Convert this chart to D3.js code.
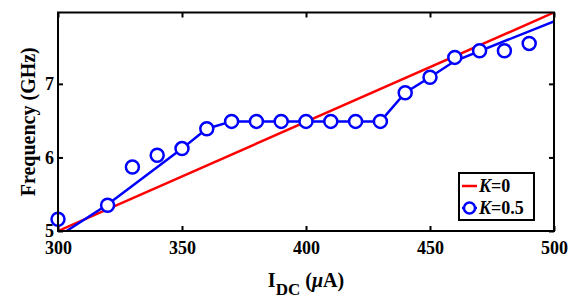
<!DOCTYPE html>
<html>
<head>
<meta charset="utf-8">
<script src="https://cdn.jsdelivr.net/npm/d3@7"></script>
<style>
  body { margin: 0; background: #fff; }
  text { font-family: "Liberation Serif", "Times New Roman", serif; font-weight: bold; }
</style>
</head>
<body>
<div id="chart"></div>
<script>
"use strict"

// data
const markerX = [300, 320, 330, 340, 350, 360, 370, 380, 390, 400, 410, 420, 430, 440, 450, 460, 470, 480, 490]
const markerY = [5.16, 5.35, 5.87, 6.03, 6.12, 6.39, 6.49, 6.49, 6.49, 6.49, 6.49, 6.49, 6.49, 6.88, 7.09, 7.36, 7.45, 7.45, 7.55]
const fitX = [303, 320, 350, 360, 370, 430, 440, 450, 460, 500]
const fitY = [4.99, 5.36, 6.12, 6.39, 6.49, 6.49, 6.88, 7.09, 7.31, 7.85]
const k0X = [300, 500]
const k0Y = [5.0, 7.97]
const xTicks = [300, 350, 400, 450, 500]
const yTicks = [5, 6, 7]

const width = 581, height = 304
const margin = { top: 12.5, right: 27, bottom: 73, left: 58 }

const svg = d3.select("#chart").append("svg")
  .attr("width", width)
  .attr("height", height)

const x = d3.scaleLinear().domain([300, 500]).range([margin.left, width - margin.right])
const y = d3.scaleLinear().domain([5, 7.97]).range([height - margin.bottom, margin.top])

svg.append("clipPath").attr("id", "clip")
  .append("rect")
  .attr("x", margin.left).attr("y", margin.top)
  .attr("width", x.range()[1] - margin.left)
  .attr("height", y.range()[0] - margin.top)

const line = d3.line().x((d) => x(d[0])).y((d) => y(d[1]))

const plot = svg.append("g").attr("clip-path", "url(#clip)")

plot.append("path")
  .datum(d3.zip(k0X, k0Y))
  .attr("d", line)
  .attr("fill", "none")
  .attr("stroke", "#ff0000")
  .attr("stroke-width", 2.5)

plot.append("path")
  .datum(d3.zip(fitX, fitY))
  .attr("d", line)
  .attr("fill", "none")
  .attr("stroke", "#0000ff")
  .attr("stroke-width", 2.5)

svg.append("g")
  .selectAll("circle")
  .data(d3.zip(markerX, markerY))
  .enter()
    .append("circle")
    .attr("cx", (d) => x(d[0]))
    .attr("cy", (d) => y(d[1]))
    .attr("r", 6.5)
    .attr("fill", "#fff")
    .attr("stroke", "#0000ff")
    .attr("stroke-width", 2.5)

// axes, ticks inside, on all four sides
const tickLen = 5
const bottomY = y.range()[0], topY = y.range()[1]
const leftX = x.range()[0], rightX = x.range()[1]

svg.append("g")
  .attr("transform", `translate(0,${bottomY})`)
  .call(d3.axisBottom(x).tickValues(xTicks).tickSizeInner(-tickLen).tickSizeOuter(0).tickPadding(10))
svg.append("g")
  .attr("transform", `translate(0,${topY})`)
  .call(d3.axisTop(x).tickValues(xTicks).tickSizeInner(-tickLen).tickSizeOuter(0).tickFormat(""))
svg.append("g")
  .attr("transform", `translate(${leftX},0)`)
  .call(d3.axisLeft(y).tickValues(yTicks).tickFormat(d3.format("d")).tickSizeInner(-tickLen).tickSizeOuter(0).tickPadding(4))
svg.append("g")
  .attr("transform", `translate(${rightX},0)`)
  .call(d3.axisRight(y).tickValues(yTicks).tickSizeInner(-tickLen).tickSizeOuter(0).tickFormat(""))

svg.selectAll(".domain").remove()
svg.selectAll(".tick line").attr("stroke", "#000").attr("stroke-width", 2)
svg.selectAll(".tick text")
  .attr("fill", "#000")
  .style("font-size", "18px")

svg.append("rect")
  .attr("x", leftX).attr("y", topY)
  .attr("width", rightX - leftX).attr("height", bottomY - topY)
  .attr("fill", "none")
  .attr("stroke", "#000")
  .attr("stroke-width", 2)

// axis titles
svg.append("text")
  .attr("transform", `translate(35,${(topY + bottomY) / 2}) rotate(-90)`)
  .attr("text-anchor", "middle")
  .style("font-size", "20px")
  .text("Frequency (GHz)")

const xt = svg.append("text")
  .attr("x", (leftX + rightX) / 2)
  .attr("y", 287)
  .attr("text-anchor", "middle")
  .style("font-size", "20px")
xt.append("tspan").text("I")
xt.append("tspan").attr("dy", 8).style("font-size", "17px").text("DC")
xt.append("tspan").attr("dy", -8).text(" (")
xt.append("tspan").style("font-style", "italic").text("\u03bc")
xt.append("tspan").text("A)")

// legend
const legend = svg.append("g").attr("transform", "translate(459,173)")
legend.append("rect")
  .attr("width", 75).attr("height", 47)
  .attr("fill", "#fff")
  .attr("stroke", "#000")
  .attr("stroke-width", 2)

const entries = [
  { label: "0", color: "#ff0000", marker: false },
  { label: "0.5", color: "#0000ff", marker: true }
]
entries.forEach((e, i) => {
  const cy = 13 + i * 22
  legend.append("line")
    .attr("x1", 3).attr("x2", 18)
    .attr("y1", cy).attr("y2", cy)
    .attr("stroke", e.color)
    .attr("stroke-width", 2.5)
  if (e.marker) {
    legend.append("circle")
      .attr("cx", 10.5).attr("cy", cy).attr("r", 5.5)
      .attr("fill", "#fff")
      .attr("stroke", e.color)
      .attr("stroke-width", 2.5)
  }
  const t = legend.append("text")
    .attr("x", 20).attr("y", cy + 6)
    .style("font-size", "18px")
  t.append("tspan").style("font-style", "italic").text("K")
  t.append("tspan").text("=" + e.label)
})
</script>
</body>
</html>
